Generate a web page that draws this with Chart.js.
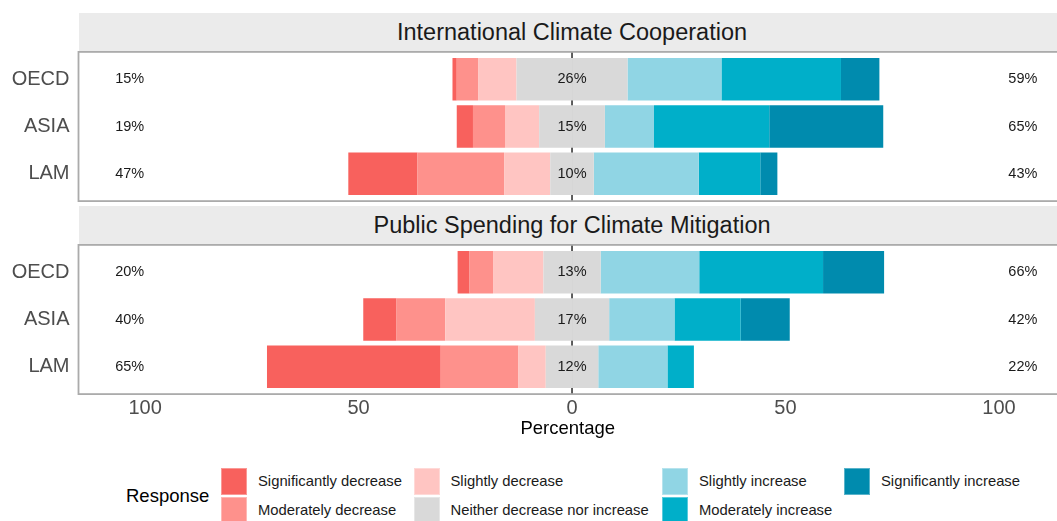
<!DOCTYPE html>
<html>
<head>
<meta charset="utf-8">
<script src="https://cdn.jsdelivr.net/npm/chart.js@4.4.1/dist/chart.umd.min.js"></script>
<style>
  body { margin: 0; width: 1057px; height: 521px; overflow: hidden; position: relative; background: #fff;
         font-family: "Liberation Sans", Arial, sans-serif; }
  .strip { position: absolute; left: 78.5px; width: 987px; height: 38px; background: #ebebeb;
           color: #1a1a1a; font-size: 23.5px; line-height: 38px; text-align: center; }
  .panel { position: absolute; left: 0; width: 1057px; }
  .key { position: absolute; width: 26px; height: 27px; box-shadow: inset 0 0 0 1px rgba(255,255,255,0.35); }
  .keytxt { position: absolute; font-size: 14.8px; color: #1a1a1a; line-height: 18px; white-space: nowrap; }
</style>
</head>
<body>
<div class="strip" id="strip1" style="top:12.5px"></div>
<div class="panel" style="top:50.5px;height:151px"><canvas id="c1" width="1057" height="151"></canvas></div>
<div class="strip" id="strip2" style="top:206px"></div>
<div class="panel" style="top:244px;height:201px"><canvas id="c2" width="1057" height="201"></canvas></div>
<div id="legend"></div>

<script>
const regions = ["OECD", "ASIA", "LAM"];
const responses = [
  "Significantly decrease",
  "Moderately decrease",
  "Slightly decrease",
  "Neither decrease nor increase",
  "Slightly increase",
  "Moderately increase",
  "Significantly increase",
];
const facetTitles = ["International Climate Cooperation", "Public Spending for Climate Mitigation"];
const xTicks = [-100, -50, 0, 50, 100];

// International Climate Cooperation (percent per region)
const coopSigDec = [1, 3.8, 16.2];
const coopModDec = [5, 7.5, 20.3];
const coopSlightDec = [9, 8, 10.8];
const coopNeutral = [26, 15.4, 10.2];
const coopSlightInc = [22, 11.5, 24.6];
const coopModInc = [28, 27, 14.4];
const coopSigInc = [9, 26.7, 4];

// Public Spending for Climate Mitigation
const spendSigDec = [2.8, 7.8, 40.7];
const spendModDec = [5.5, 11.4, 18.2];
const spendSlightDec = [11.8, 21, 6.4];
const spendNeutral = [13.4, 17.4, 12.3];
const spendSlightInc = [23.1, 15.3, 16.2];
const spendModInc = [29, 15.5, 6.2];
const spendSigInc = [14.3, 11.5, 0];

const palette = ["#f8615d", "#fe918c", "#ffc5c2", "#d9d9d9", "#90d5e4", "#00afc9", "#008bae"];

Chart.defaults.font.family = '"Liberation Sans", Arial, sans-serif';

const PAD_Y = 4.7;

// neutral is split half left / half right of zero, the rest stack outward
function buildDatasets(rows) {
  const [sd, md, sl, nt, si, mi, gi] = rows;
  const half = nt.map(v => v / 2);
  const mk = (data, color, label) => ({ label, data, backgroundColor: color, borderWidth: 0 });
  return [
    mk(half.map(v => -v), palette[3], responses[3]),
    mk(sl.map(v => -v), palette[2], responses[2]),
    mk(md.map(v => -v), palette[1], responses[1]),
    mk(sd.map(v => -v), palette[0], responses[0]),
    mk(half, palette[3], responses[3]),
    mk(si, palette[4], responses[4]),
    mk(mi, palette[5], responses[5]),
    mk(gi, palette[6], responses[6]),
  ];
}

const panelPlugin = {
  id: "panel",
  beforeDatasetsDraw(chart) {
    const { ctx, chartArea: a, scales } = chart;
    const top = a.top - PAD_Y, bottom = a.bottom + PAD_Y;
    ctx.save();
    const x0 = scales.x.getPixelForValue(0);
    ctx.strokeStyle = "#1a1a1a";
    ctx.lineWidth = 1.4;
    ctx.beginPath();
    ctx.moveTo(x0, top);
    ctx.lineTo(x0, bottom);
    ctx.stroke();
    ctx.strokeStyle = "#ababab";
    ctx.lineWidth = 1.8;
    ctx.strokeRect(a.left, top + 0.9, a.right - a.left + 20, bottom - top - 1.8);
    ctx.restore();
  },
  afterDatasetsDraw(chart) {
    const { ctx, scales: { x, y } } = chart;
    const rows = chart.options.plugins.panel.rows;
    ctx.save();
    ctx.font = '14.5px "Liberation Sans", Arial, sans-serif';
    ctx.fillStyle = "#1a1a1a";
    ctx.textAlign = "center";
    ctx.textBaseline = "middle";
    regions.forEach((r, i) => {
      const neg = Math.round(rows[0][i] + rows[1][i] + rows[2][i]);
      const mid = Math.round(rows[3][i]);
      const pos = Math.round(rows[4][i] + rows[5][i] + rows[6][i]);
      const py = y.getPixelForValue(i);
      ctx.fillText(neg + "%", x.getPixelForValue(-103.6), py);
      ctx.fillText(mid + "%", x.getPixelForValue(0), py);
      ctx.fillText(pos + "%", x.getPixelForValue(105.6), py);
    });
    ctx.restore();
  },
};

function makeChart(id, rows, showAxis) {
  const canvas = document.getElementById(id);
  return new Chart(canvas, {
    type: "bar",
    data: { labels: regions, datasets: buildDatasets(rows) },
    plugins: [panelPlugin],
    options: {
      responsive: false,
      animation: false,
      indexAxis: "y",
      barPercentage: 0.9,
      categoryPercentage: 1,
      layout: { padding: { top: PAD_Y, left: 0, right: 0, bottom: 0 } },
      plugins: {
        legend: { display: false },
        tooltip: { enabled: false },
        panel: { rows },
      },
      scales: {
        x: {
          type: "linear",
          stacked: true,
          min: -115.6,
          max: 113.6,
          afterBuildTicks: s => { s.ticks = xTicks.map(v => ({ value: v })); },
          afterFit: s => {
            s.height = showAxis ? canvas.height - PAD_Y - 141.6 : PAD_Y;
            s.paddingLeft = 0; s.paddingRight = 0;
          },
          grid: { display: false, drawTicks: false },
          border: { display: false },
          ticks: {
            display: showAxis,
            autoSkip: false,
            maxRotation: 0,
            padding: 6,
            color: "#4d4d4d",
            font: { size: 20 },
            callback: v => Math.abs(v),
          },
          title: {
            display: showAxis,
            text: "Percentage",
            color: "#000",
            font: { size: 18.5 },
            padding: { top: 0, bottom: 5.4 },
          },
        },
        y: {
          type: "category",
          stacked: true,
          offset: true,
          afterFit: s => { s.width = 78.5; s.paddingTop = 0; s.paddingBottom = 0; },
          grid: { display: false, drawTicks: false },
          border: { display: false },
          ticks: { padding: 9, color: "#4d4d4d", font: { size: 20 } },
        },
      },
    },
  });
}

document.getElementById("strip1").textContent = facetTitles[0];
document.getElementById("strip2").textContent = facetTitles[1];

makeChart("c1", [coopSigDec, coopModDec, coopSlightDec, coopNeutral, coopSlightInc, coopModInc, coopSigInc], false);
makeChart("c2", [spendSigDec, spendModDec, spendSlightDec, spendNeutral, spendSlightInc, spendModInc, spendSigInc], true);

// legend: 2 rows, filled column by column
const legend = document.getElementById("legend");
const colLeft = [221, 413.5, 662, 844];
const rowTop = [467.5, 496.5];
const title = document.createElement("div");
title.textContent = "Response";
title.style.cssText = "position:absolute;left:126px;top:484px;font-size:18.5px;line-height:24px;color:#000";
legend.appendChild(title);
responses.forEach((r, i) => {
  const c = Math.floor(i / 2), rr = i % 2;
  const key = document.createElement("div");
  key.className = "key";
  key.style.left = colLeft[c] + "px";
  key.style.top = rowTop[rr] + "px";
  key.style.background = palette[i];
  legend.appendChild(key);
  const t = document.createElement("div");
  t.className = "keytxt";
  t.textContent = r;
  t.style.left = (colLeft[c] + 37) + "px";
  t.style.top = (rowTop[rr] + 4.5) + "px";
  legend.appendChild(t);
});
</script>
</body>
</html>
